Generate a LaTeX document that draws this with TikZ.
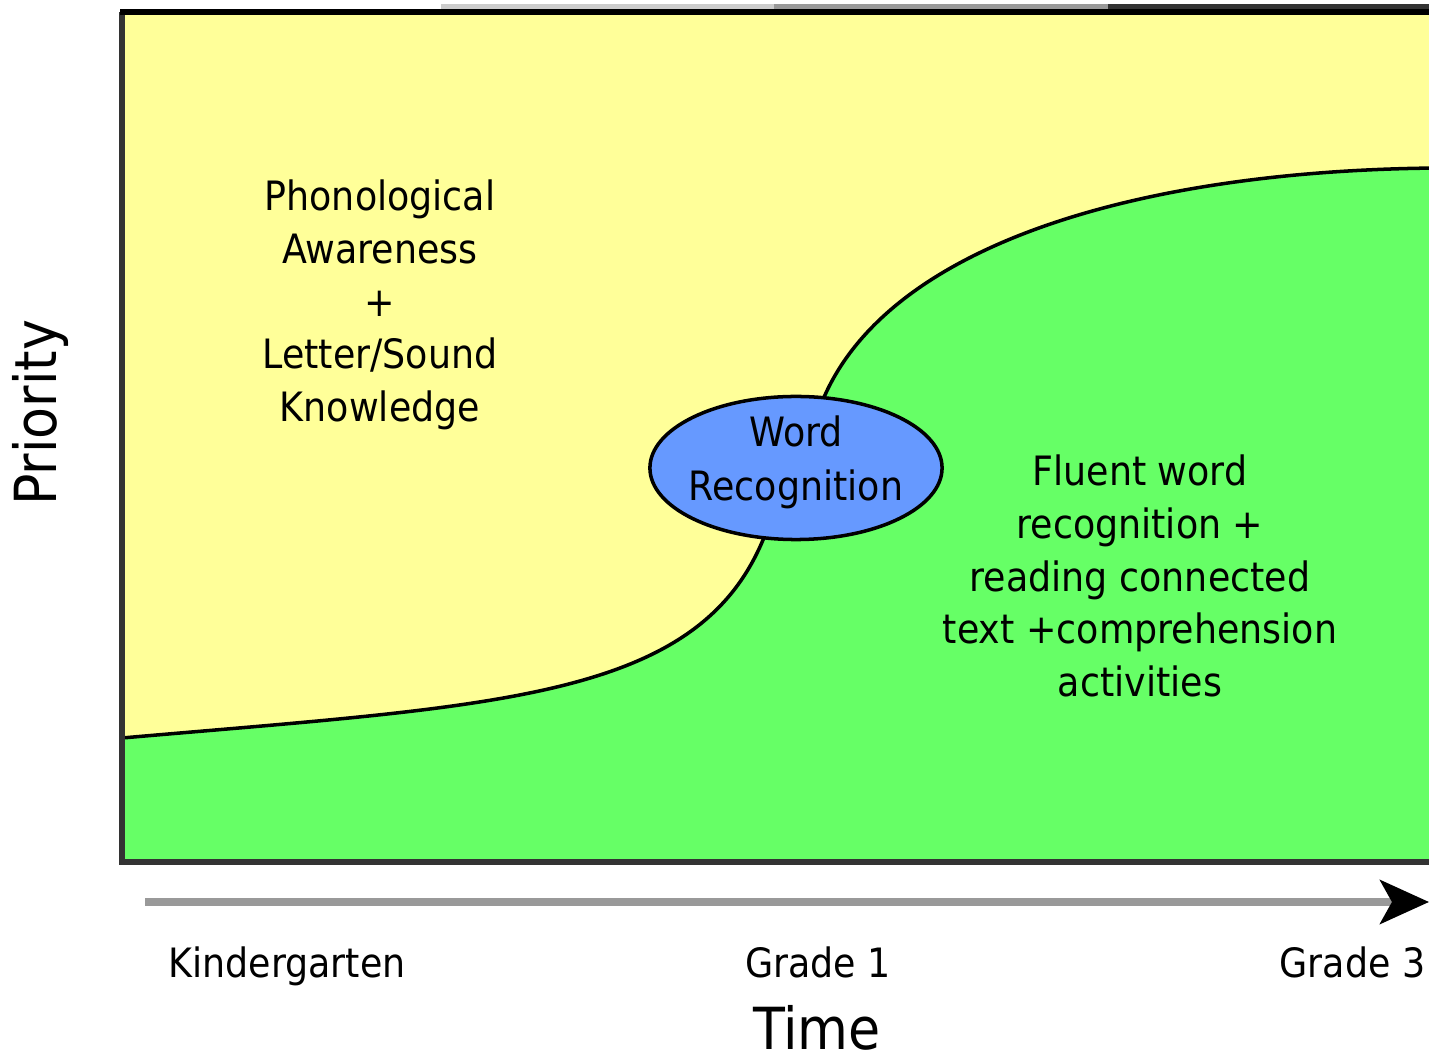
\documentclass[tikz,border=0pt]{standalone}
\usepackage{fontspec}
\setmainfont{DejaVu Sans}
\newfontfamily\labfont[FakeStretch=0.9]{DejaVu Sans}
\usetikzlibrary{arrows.meta,shapes.geometric}
\definecolor{ylw}{HTML}{FFFF99}
\definecolor{grn}{HTML}{66FF66}
\definecolor{blu}{HTML}{6699FF}
\definecolor{frm}{HTML}{333333}
\definecolor{axg}{HTML}{999999}
\tikzset{
  lab/.style={font=\labfont\fontsize{11.5}{15}\selectfont, align=center, inner sep=0pt, text=black},
  big/.style={font=\labfont\fontsize{16.5}{18}\selectfont, inner sep=0pt},
  bubble/.style={ellipse, draw=black, line width=1pt, fill=blu, minimum width=2.92cm, minimum height=1.43cm, inner sep=0pt},
  axisline/.style={draw=axg, line width=2pt, -{Stealth[length=0.49cm,width=0.44cm,inset=0.12cm,black]}},
}
\begin{document}
\begin{tikzpicture}[x=0.01cm,y=-0.01cm]
\useasboundingbox (0,0) rectangle (1429,1061);
\fill[white] (0,0) rectangle (1429,1061);
\begin{scope}
\clip (0,0) rectangle (1429,1061);
% background regions
\fill[ylw] (122,12) rectangle (1440,862);
\fill[grn] (122,738) .. controls (500,705) and (700,700) .. (765,535)
  .. controls (785,485) and (805,440) .. (825,395)
  .. controls (895,240) and (1150,170) .. (1440,168) -- (1440,862) -- (122,862) -- cycle;
\draw[black, line width=1pt] (122,738) .. controls (500,705) and (700,700) .. (765,535)
  .. controls (785,485) and (805,440) .. (825,395)
  .. controls (895,240) and (1150,170) .. (1440,168);
% top artifacts
\fill[black!20] (441,4) rectangle (774,9);
\fill[axg] (774,4) rectangle (1108,9);
\fill[frm] (1108,4) rectangle (1440,9);
% frame
\draw[frm, line width=1.7pt] (1440,862) -- (122,862) -- (122,12);
\draw[black, line width=1.5pt] (120,12) -- (1440,12);
\end{scope}

\node[bubble] (wr) at (796,468) {};
\node[lab, font=\labfont\fontsize{11.5}{15.3}\selectfont] (wrt) at (796,462) {Word\\Recognition};

\node[lab] (pa) at (380,305) {Phonological\\Awareness\\+\\Letter/Sound\\Knowledge};
\node[lab] (fw) at (1140,576) {Fluent word\\recognition +\\reading connected\\text +comprehension\\activities};

\coordinate (axs) at (145,902);
\coordinate (axe) at (1429,902);
\draw[axisline] (axs) -- (axe);

\node[lab, anchor=base] (kg) at (287,978) {Kindergarten};
\node[lab, anchor=base] (g1) at (818,978) {Grade 1};
\node[lab, anchor=base east] (g3) at (1426,978) {Grade 3};
\node[big, anchor=base, text depth=0pt] (time) at (817,1050) {Time};
\node[big, rotate=90, anchor=base] (prio) at (57,413) {Priority};
\end{tikzpicture}
\end{document}
